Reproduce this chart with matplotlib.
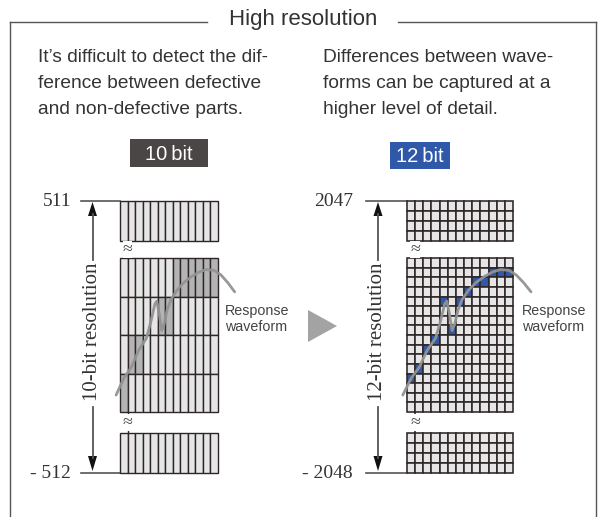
import matplotlib
matplotlib.use("Agg")
import matplotlib.pyplot as plt
from matplotlib.patches import Rectangle, Polygon
import numpy as np

# ---------------- data ----------------
title = "High resolution"
left_text = ["It\u2019s difficult to detect the dif-",
             "ference between defective",
             "and non-defective parts."]
right_text = ["Differences between wave-",
              "forms can be captured at a",
              "higher level of detail."]
bit_labels = ["10\u2009bit", "12\u2009bit"]
top_labels = ["511", "2047"]
bottom_labels = ["- 512", "- 2048"]
resolution_labels = ["10-bit resolution", "12-bit resolution"]
wave_label = "Response\nwaveform"

n_cols = 13
mid_rows = [4, 16]      # rows in the middle (shown) block
edge_rows = [1, 4]      # rows in top / bottom blocks

# left (10-bit) highlighted cells: row index in middle block, column index
left_cells_rows = [0, 0, 0, 0, 0, 0, 1, 1, 2, 2, 3]
left_cells_cols = [7, 8, 9, 10, 11, 12, 5, 6, 1, 2, 0]
# right (12-bit) highlighted cells
right_cells_rows = [1, 1, 1, 2, 2, 3, 4, 4, 7, 8, 9, 11, 12]
right_cells_cols = [10, 11, 12, 8, 9, 7, 4, 6, 5, 3, 2, 1, 0]

# response waveform (fraction of grid width, fraction of middle-block height)
wave_u = [-0.04, 0.04, 0.115, 0.19, 0.27, 0.32, 0.355, 0.375, 0.40, 0.425, 0.45,
          0.48, 0.52, 0.58, 0.65, 0.73, 0.81, 0.88, 0.96, 1.03, 1.10, 1.17]
wave_v = [0.89, 0.78, 0.71, 0.60, 0.52, 0.40, 0.30, 0.28, 0.36, 0.47, 0.43,
          0.34, 0.27, 0.21, 0.16, 0.12, 0.09, 0.075, 0.08, 0.11, 0.16, 0.22]

# ---------------- style / layout ----------------
SANS = ["Liberation Sans", "DejaVu Sans"]
SERIF = ["Liberation Serif", "DejaVu Serif"]
TXT = "#333333"
LINE = "#555555"
GRID = "#2e2626"
CELL = "#e6e6e6"
SHADE = "#b4b4b4"
BLUE = "#2f58a8"
WAVE = "#939393"

fig = plt.figure(figsize=(6.05, 5.17), dpi=100)
ax = fig.add_axes([0, 0, 1, 1])
ax.set_xlim(0, 605)
ax.set_ylim(517, 0)
ax.axis("off")

# frame
ax.plot([10, 10], [22, 517], color=LINE, lw=1.0)
ax.plot([596, 596], [22, 517], color=LINE, lw=1.0)
ax.plot([10, 207], [22, 22], color=LINE, lw=1.0)
ax.plot([398, 596], [22, 22], color=LINE, lw=1.0)
ax.text(303, 25, title, ha="center", va="baseline", fontsize=16,
        color=TXT, family=SANS)

# body text
for i, (lt, rt) in enumerate(zip(left_text, right_text)):
    ax.text(38, 62 + 26 * i, lt, ha="left", va="baseline", fontsize=13.8,
            color=TXT, family=SANS)
    ax.text(323, 62 + 26 * i, rt, ha="left", va="baseline", fontsize=13.8,
            color=TXT, family=SANS)

# bit label boxes
boxes = [(130, 139, 78, 28, "#4a4646"), (390, 142, 60, 27, BLUE)]
for (bx, by, bw, bh, bc), lab in zip(boxes, bit_labels):
    ax.add_patch(Rectangle((bx, by), bw, bh, facecolor=bc, edgecolor="none"))
    ax.text(bx + bw / 2, by + bh / 2 + 1, lab, ha="center", va="center",
            fontsize=14.5, color="white", family=SANS)

# panels
panels = [
    dict(x0=120, x1=218, arrow_x=92.5, label_x=71, tick_x0=81,
         rows=left_cells_rows, cols=left_cells_cols, hi=SHADE, lw=1.0,
         wlab_x=225),
    dict(x0=407, x1=513, arrow_x=378, label_x=353, tick_x0=366,
         rows=right_cells_rows, cols=right_cells_cols, hi=BLUE, lw=1.15,
         wlab_x=522),
]
top_y0, top_y1 = 201, 241
mid_y0, mid_y1 = 258, 412
bot_y0, bot_y1 = 433, 473

for k, p in enumerate(panels):
    x0, x1 = p["x0"], p["x1"]
    cw = (x1 - x0) / n_cols
    hl = set(zip(p["rows"], p["cols"]))
    blocks = [(top_y0, top_y1, edge_rows[k], False),
              (mid_y0, mid_y1, mid_rows[k], True),
              (bot_y0, bot_y1, edge_rows[k], False)]
    for (y0, y1, nr, is_mid) in blocks:
        rh = (y1 - y0) / nr
        for r in range(nr):
            for c in range(n_cols):
                fc = p["hi"] if (is_mid and (r, c) in hl) else CELL
                ax.add_patch(Rectangle((x0 + c * cw, y0 + r * rh), cw, rh,
                                       facecolor=fc, edgecolor=GRID,
                                       lw=p["lw"], zorder=2))
    # break connectors
    bx = x0 + cw
    for (ya, yb) in [(top_y1, mid_y0), (mid_y1, bot_y0)]:
        ax.plot([bx, bx], [ya, yb], color=GRID, lw=p["lw"], zorder=2)
        ax.text(bx, (ya + yb) / 2, "\u2248", ha="center", va="center",
                fontsize=13, color="#444444", zorder=3, family=SERIF,
                bbox=dict(facecolor="white", edgecolor="none", pad=0.0))

    # waveform
    wx = x0 + np.array(wave_u) * (x1 - x0)
    wy = mid_y0 + np.array(wave_v) * (mid_y1 - mid_y0)
    ax.plot(wx, wy, color=WAVE, lw=2.0, alpha=0.95, zorder=4,
            solid_capstyle="round", solid_joinstyle="round")
    ax.text(p["wlab_x"], 319, wave_label, ha="left", va="center",
            fontsize=10.3, color="#444444", family=SANS, linespacing=1.25)

    # value ticks and labels
    for yv, lab in [(top_y0, top_labels[k]), (bot_y1, bottom_labels[k])]:
        ax.plot([p["tick_x0"], x0], [yv, yv], color=LINE, lw=1.2, zorder=1)
        ax.text(p["label_x"], yv, lab, ha="right", va="center",
                fontsize=14, color=TXT, family=SERIF)

    # arrows
    axx = p["arrow_x"]
    ax.plot([axx, axx], [214, 260], color=LINE, lw=1.3)
    ax.plot([axx, axx], [407, 458], color=LINE, lw=1.3)
    ax.add_patch(Polygon([[axx, top_y0 + 1], [axx - 4.5, 216], [axx + 4.5, 216]],
                         closed=True, facecolor="#111111", edgecolor="none"))
    ax.add_patch(Polygon([[axx, bot_y1 - 2], [axx - 4.5, 456], [axx + 4.5, 456]],
                         closed=True, facecolor="#111111", edgecolor="none"))
    ax.text(axx, 332, resolution_labels[k], ha="center", va="center",
            rotation=90, fontsize=15, color=TXT, family=SERIF)

# play triangle between panels
ax.add_patch(Polygon([[308, 310], [308, 342], [337, 326]], closed=True,
                     facecolor="#a3a3a3", edgecolor="none"))

fig.savefig("out.png", dpi=100, facecolor="white")
